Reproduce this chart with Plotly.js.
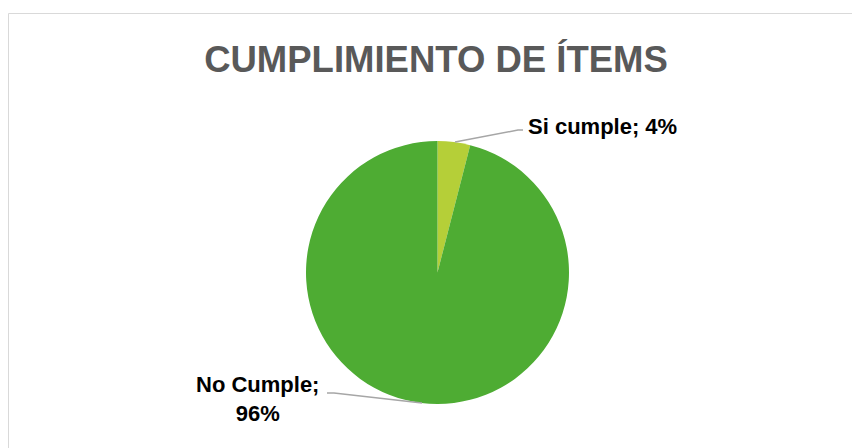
<!DOCTYPE html>
<html>
<head>
<meta charset="utf-8">
<script src="https://cdn.plot.ly/plotly-3.0.1.min.js"></script>
<style>html,body{margin:0;padding:0;background:#fff;}#chart{width:852px;height:448px;}</style>
</head>
<body>
<div id="chart"></div>
<script>
const categories = ["Si cumple", "No Cumple"];
const values = [4, 96];
const colors = ["#b5cf38", "#4eac33"];
const titleText = "CUMPLIMIENTO DE ÍTEMS";

const W = 852, H = 448;
const px = x => x / W;
const py = y => 1 - y / H;

const data = [{
  type: "pie",
  labels: categories,
  values: values,
  sort: false,
  direction: "clockwise",
  rotation: 0,
  marker: {colors: colors, line: {width: 0}},
  textinfo: "none",
  hoverinfo: "label+percent",
  showlegend: false,
  domain: {x: [px(306), px(569)], y: [py(404), py(141)]}
}];

const labelFont = {family: "Liberation Sans, Arial, sans-serif", size: 22, color: "#000000"};

const layout = {
  width: W, height: H,
  margin: {l: 0, r: 0, t: 0, b: 0},
  paper_bgcolor: "#ffffff",
  title: {
    text: "<b>" + titleText + "</b>",
    x: px(436), xanchor: "center",
    y: py(59), yanchor: "middle",
    font: {family: "Liberation Sans, Arial, sans-serif", size: 36.5, color: "#595959"}
  },
  annotations: [
    {
      text: "<b>" + categories[0] + "; " + values[0] + "%</b>",
      xref: "paper", yref: "paper",
      x: px(526), y: py(127), xanchor: "left", yanchor: "middle",
      showarrow: false, font: labelFont
    },
    {
      text: "<b>" + categories[1] + ";<br>" + values[1] + "%</b>",
      xref: "paper", yref: "paper",
      x: px(257), y: py(399), xanchor: "center", yanchor: "middle",
      showarrow: false, font: labelFont, align: "center"
    }
  ],
  shapes: [
    {type: "rect", xref: "paper", yref: "paper", x0: px(8.5), x1: px(860), y0: py(460), y1: py(13.5),
     line: {color: "#d9d9d9", width: 1}, fillcolor: "rgba(0,0,0,0)"},
    {type: "path", xref: "paper", yref: "paper",
     path: `M ${px(455)} ${py(142)} L ${px(518)} ${py(130)} L ${px(523)} ${py(130)}`,
     line: {color: "#a6a6a6", width: 1.5}},
    {type: "path", xref: "paper", yref: "paper",
     path: `M ${px(327)} ${py(393)} L ${px(334)} ${py(393)} L ${px(422)} ${py(403)}`,
     line: {color: "#a6a6a6", width: 1.5}}
  ]
};

Plotly.newPlot("chart", data, layout, {displayModeBar: false, staticPlot: true});
</script>
</body>
</html>
